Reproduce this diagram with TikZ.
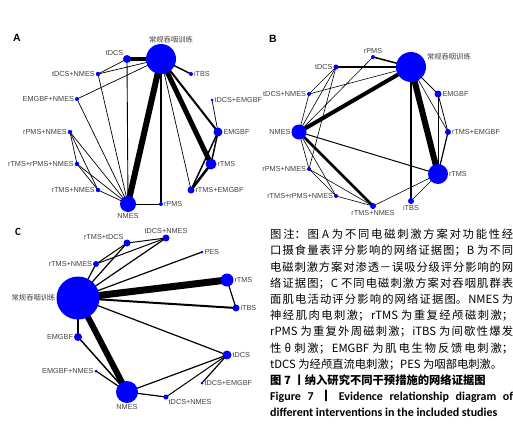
\documentclass[tikz,border=0pt]{standalone}
\usepackage{fontspec}
\setmainfont{Liberation Sans}
\newfontfamily\cjk{Noto Sans CJK SC}
\newfontfamily\calfont{Carlito}
\XeTeXlinebreaklocale "zh"
\XeTeXlinebreakskip=0pt plus 4pt
\pgfdeclarelayer{edges}
\pgfsetlayers{edges,main}
\begin{document}
\begin{tikzpicture}[x=1pt,y=-1pt,
  nd/.style={circle,fill=blue,inner sep=0pt,minimum size=#1},
  lbl/.style={font=\fontsize{7.3}{8}\selectfont,text=black!75,inner sep=0.6pt},
  zlbl/.style={font=\cjk\fontsize{7.3}{8}\selectfont,text=black!75,inner sep=0.6pt},
  e/.style={line width=#1,draw=black},
  panel/.style={font=\bfseries\fontsize{10.5}{11}\selectfont,inner sep=0pt}]
\useasboundingbox (0,0) rectangle (513,439);

% ---------------- Panel A ----------------
\node[panel] (labA) at (17,38) {A};
\node[nd=30pt,label={[zlbl,xshift=10pt]above:常规吞咽训练}] (aC) at (161,59) {};
\node[nd=8pt,label={[lbl]above left:tDCS}] (atDCS) at (127,59) {};
\node[nd=4pt,label={[lbl]right:iTBS}] (aiTBS) at (191,74) {};
\node[nd=3pt,label={[lbl]right:tDCS+EMGBF}] (atE) at (212,100) {};
\node[nd=4.4pt,label={[lbl]left:tDCS+NMES}] (atN) at (98,74) {};
\node[nd=4pt,label={[lbl]left:EMGBF+NMES}] (aEN) at (77,99) {};
\node[nd=4.4pt,label={[lbl]left:rPMS+NMES}] (apN) at (70,132) {};
\node[nd=4.4pt,label={[lbl]left:rTMS+rPMS+NMES}] (arpN) at (77,164) {};
\node[nd=4.4pt,label={[lbl]left:rTMS+NMES}] (arN) at (98,190) {};
\node[nd=16pt,label={[lbl]below:NMES}] (aN) at (128,204) {};
\node[nd=4pt,label={[lbl]right:rPMS}] (arPMS) at (161,204) {};
\node[nd=9pt,label={[lbl]right:EMGBF}] (aE) at (218,132) {};
\node[nd=11pt,label={[lbl]right:rTMS}] (arTMS) at (211,164) {};
\node[nd=7pt,label={[lbl]right:rTMS+EMGBF}] (arE) at (191,190) {};

% ---------------- Panel B ----------------
\node[panel] (labB) at (273,39) {B};
\node[nd=30pt,label={[zlbl,yshift=10pt]right:常规吞咽训练}] (bC) at (411,67) {};
\node[nd=7pt,label={[lbl]right:EMGBF}] (bE) at (438,94) {};
\node[nd=4pt,label={[lbl]above:rPMS}] (brPMS) at (373,57) {};
\node[nd=5pt,label={[lbl]left:tDCS}] (btDCS) at (336,67) {};
\node[nd=4pt,label={[lbl]left:tDCS+NMES}] (btN) at (309,94) {};
\node[nd=15pt,label={[lbl]left:NMES}] (bN) at (299,132) {};
\node[nd=4pt,label={[lbl]left:rPMS+NMES}] (bpN) at (309,169) {};
\node[nd=4pt,label={[lbl]left:rTMS+rPMS+NMES}] (brpN) at (336,196) {};
\node[nd=6pt,label={[lbl]below:rTMS+NMES}] (brN) at (373,206) {};
\node[nd=6pt,label={[lbl]right:rTMS+EMGBF}] (brE) at (448,132) {};
\node[nd=20pt,label={[lbl]right:rTMS}] (brTMS) at (438,174) {};
\node[nd=6pt,label={[lbl]below:iTBS}] (biTBS) at (411,201) {};

% ---------------- Panel C ----------------
\node[panel,font=\calfont\bfseries\fontsize{11}{11}\selectfont] (labC) at (18,232) {C};
\node[nd=43pt,label={[zlbl]left:常规吞咽训练}] (cC) at (78,298) {};
\node[nd=7pt,label={[lbl]above left:rTMS+tDCS}] (crt) at (127,243) {};
\node[nd=6pt,label={[lbl]left:rTMS+NMES}] (crN) at (96,264) {};
\node[nd=7pt,label={[lbl]above:tDCS+NMES}] (ctNt) at (166,238) {};
\node[nd=3pt,label={[lbl]right:PES}] (cPES) at (202,252) {};
\node[nd=13pt,label={[lbl]right:rTMS}] (crTMS) at (227,280) {};
\node[nd=7pt,label={[lbl]right:iTBS}] (ciTBS) at (236,308) {};
\node[nd=8pt,label={[lbl]left:EMGBF}] (cE) at (78,337) {};
\node[nd=3pt,label={[lbl]left:EMGBF+NMES}] (cEN) at (96,371) {};
\node[nd=22pt,label={[lbl]below:NMES}] (cN) at (127,392) {};
\node[nd=5pt,label={[lbl]below right:tDCS+NMES}] (ctNb) at (166,397) {};
\node[nd=9pt,label={[lbl]right:tDCS}] (ctDCS) at (227,355) {};
\node[nd=3pt,label={[lbl]right:tDCS+EMGBF}] (ctE) at (202,383) {};

% ---------------- Caption ----------------
\node[anchor=north west,inner sep=0pt,text width=243pt,align=justify,
  font=\cjk\fontsize{11.3}{16.2}\selectfont] (cap) at (270,229) {%
图注：图 A 为不同电磁刺激方案对功能性经\linebreak
口摄食量表评分影响的网络证据图；B 为不同\linebreak
电磁刺激方案对渗透－误吸分级评分影响的网\linebreak
络证据图；C 不同电磁刺激方案对吞咽肌群表\linebreak
面肌电活动评分影响的网络证据图。NMES 为\linebreak
神经肌肉电刺激；rTMS 为重复经颅磁刺激；\linebreak
rPMS 为重复外周磁刺激；iTBS 为间歇性爆发\linebreak
性 θ 刺激；EMGBF 为肌电生物反馈电刺激；\linebreak
tDCS 为经颅直流电刺激；PES 为咽部电刺激。\\
{\bfseries 图 7 丨纳入研究不同干预措施的网络证据图}\\
{\calfont\bfseries\fontsize{12}{16.2}\selectfont Figure 7 {\cjk 丨} Evidence relationship diagram of\linebreak
different interventions in the included studies}};

\begin{pgfonlayer}{edges}
% A edges
\draw[e=3.5] (aC.center) -- (atDCS.center);
\draw[e=1.5] (aC.center) -- (aiTBS.center);
\draw[e=0.7] (aC.center) -- (atN.center);
\draw[e=0.7] (atDCS.center) -- (atN.center);
\draw[e=0.7] (aC.center) -- (aEN.center);
\draw[e=0.7] (atN.center) -- (aN.center);
\draw[e=0.7] (aEN.center) -- (aN.center);
\draw[e=0.9] (atDCS.center) -- (aN.center);
\draw[e=6] (aC.center) -- (aN.center);
\draw[e=1.2] (aC.center) -- (arPMS.center);
\draw[e=0.7] (arPMS.center) -- (aN.center);
\draw[e=0.7] (aC.center) -- (arE.center);
\draw[e=5] (aC.center) -- (arTMS.center);
\draw[e=2] (aC.center) -- (aE.center);
\draw[e=0.7] (atE.center) -- (aE.center);
\draw[e=1.5] (aE.center) -- (arTMS.center);
\draw[e=1.5] (aE.center) -- (arE.center);
\draw[e=2.5] (arTMS.center) -- (arE.center);
\draw[e=0.7] (apN.center) -- (arpN.center);
\draw[e=0.7] (apN.center) -- (arN.center);
\draw[e=0.7] (apN.center) -- (aN.center);
\draw[e=0.7] (arpN.center) -- (arN.center);
\draw[e=0.7] (arpN.center) -- (aN.center);
\draw[e=0.7] (arN.center) -- (aN.center);
% B edges
\draw[e=2] (bC.center) -- (btDCS.center);
\draw[e=1.5] (bC.center) -- (brPMS.center);
\draw[e=0.6] (bC.center) -- (btN.center);
\draw[e=4] (bC.center) -- (bN.center);
\draw[e=1] (bC.center) -- (bE.center);
\draw[e=0.6] (bC.center) -- (brE.center);
\draw[e=6] (bC.center) -- (brTMS.center);
\draw[e=2.5] (bC.center) -- (biTBS.center);
\draw[e=0.6] (btDCS.center) -- (btN.center);
\draw[e=0.6] (btDCS.center) -- (bN.center);
\draw[e=0.6] (btDCS.center) -- (bpN.center);
\draw[e=0.6] (brPMS.center) -- (bN.center);
\draw[e=0.6] (btN.center) -- (bN.center);
\draw[e=1] (bN.center) -- (brTMS.center);
\draw[e=2.5] (bN.center) -- (brN.center);
\draw[e=0.6] (bN.center) -- (bpN.center);
\draw[e=0.6] (bN.center) -- (brpN.center);
\draw[e=0.6] (bpN.center) -- (brpN.center);
\draw[e=0.6] (bpN.center) -- (brN.center);
\draw[e=0.6] (brpN.center) -- (brN.center);
\draw[e=0.6] (brN.center) -- (brTMS.center);
\draw[e=0.6] (brTMS.center) -- (biTBS.center);
\draw[e=1] (bE.center) -- (brTMS.center);
\draw[e=0.8] (bE.center) -- (brE.center);
\draw[e=1.2] (brTMS.center) -- (brE.center);
% C edges
\draw[e=1.2] (cC.center) -- (crt.center);
\draw[e=1.2] (cC.center) -- (crN.center);
\draw[e=1] (crN.center) -- (crt.center);
\draw[e=1] (crt.center) -- (ctNt.center);
\draw[e=1] (crN.center) -- (ctNt.center);
\draw[e=1.2] (cC.center) -- (ctNt.center);
\draw[e=1.2] (cC.center) -- (cPES.center);
\draw[e=7] (cC.center) -- (crTMS.center);
\draw[e=2] (cC.center) -- (ciTBS.center);
\draw[e=1.2] (crTMS.center) -- (ciTBS.center);
\draw[e=1.2] (cC.center) -- (ctDCS.center);
\draw[e=2] (cC.center) -- (cE.center);
\draw[e=6] (cC.center) -- (cN.center);
\draw[e=1.5] (cE.center) -- (cN.center);
\draw[e=1.2] (cEN.center) -- (cN.center);
\draw[e=1.2] (cN.center) -- (ctDCS.center);
\draw[e=1.2] (cN.center) -- (ctNb.center);
\draw[e=1] (ctNb.center) -- (ctDCS.center);
\draw[e=1.2] (ctDCS.center) -- (ctE.center);
\end{pgfonlayer}
\end{tikzpicture}
\end{document}
